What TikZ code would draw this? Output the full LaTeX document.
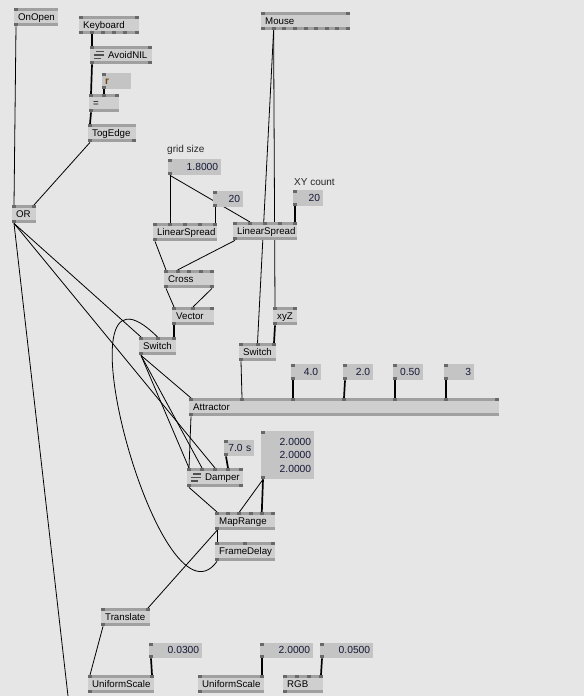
\documentclass[tikz,border=0pt]{standalone}
\usepackage{fontspec}
\setmainfont{Liberation Sans}
\definecolor{patchbg}{RGB}{230,230,230}
\definecolor{nodebody}{RGB}{207,207,207}
\definecolor{nodebar}{RGB}{160,160,160}
\definecolor{nodepin}{RGB}{105,105,105}
\definecolor{iobody}{RGB}{196,196,196}
\definecolor{valtext}{RGB}{20,25,55}
\definecolor{strtext}{RGB}{120,70,15}
\definecolor{iconcol}{RGB}{80,80,80}

\pgfdeclarelayer{patch}
\pgfdeclarelayer{links}
\pgfsetlayers{patch,links,main}

\tikzset{
  vnode/.style={anchor=north west, fill=nodebody, inner xsep=4pt, inner ysep=0pt,
    text width=#1pt-8pt, align=left, minimum height=18pt, text height=7.5pt, text depth=1.5pt,
    path picture={
      \fill[nodebar] (path picture bounding box.north west) rectangle ([yshift=-3pt]path picture bounding box.north east);
      \fill[nodebar] ([yshift=3pt]path picture bounding box.south west) rectangle (path picture bounding box.south east);}},
  iobase/.style={anchor=north west, fill=iobody, inner xsep=3pt, inner ysep=0pt,
    text width=#1pt-6pt, align=right, text=valtext, font=\fontsize{10.3}{13.5}\selectfont},
  iobox/.style={iobase=#1, minimum height=16pt, text height=7.5pt, text depth=1.5pt},
  patchnote/.style={anchor=base west, inner sep=0pt, text=black!85, font=\fontsize{10}{12}\selectfont},
  link/.style={line width=0.8pt},
  fatlink/.style={line width=1.7pt}
}

\newcommand{\toppins}[2]{\foreach \px in {#2}{\fill[nodepin] ([xshift=\px*1pt]#1.north west) rectangle +(4pt,-3pt);}}
\newcommand{\botpins}[2]{\foreach \px in {#2}{\fill[nodepin] ([xshift=\px*1pt]#1.south west) rectangle +(4pt,3pt);}}
\newcommand{\stackicon}[1]{%
  \draw[line width=1.5pt, draw=iconcol] ([xshift=6pt,yshift=3.5pt]#1.west) -- ++(8pt,0pt)
    ([xshift=4pt]#1.west) -- ++(10pt,0pt)
    ([xshift=4pt,yshift=-3.5pt]#1.west) -- ++(7pt,0pt);}

\begin{document}
\begin{tikzpicture}[x=1pt,y=-1pt,font=\fontsize{9.7}{11}\selectfont]
\begin{pgfonlayer}{patch}
\fill[patchbg] (0,0) rectangle (584,696);
\end{pgfonlayer}
\useasboundingbox (0,0) rectangle (584,696);

% keyboard / reset part
\node[vnode=44] (onopen) at (14,8) {OnOpen};
\node[vnode=60] (keyb) at (79,16) {Keyboard};
\node[vnode=62] (avoid) at (90,46) {\hspace*{14pt}AvoidNIL};
\node[iobox=29, align=left, text=strtext, font=\fontsize{10.3}{12}\bfseries] (rbox) at (102,73) {r};
\node[vnode=30] (eqn) at (89,94) {=};
\node[vnode=48] (togedge) at (88,124) {TogEdge};
\node[vnode=24] (ornode) at (12,205) {OR};

% grid
\node[patchnote] (gridlabel) at (167,152) {grid size};
\node[iobox=53] (gridsize) at (168,159) {1.8000};
\node[iobox=30] (twentya) at (213,191) {20};
\node[patchnote] (xylabel) at (294,185) {XY count};
\node[iobox=30] (xycount) at (293,190) {20};
\node[vnode=64] (ls1) at (153,223) {LinearSpread};
\node[vnode=64] (ls2) at (233,222) {LinearSpread};
\node[vnode=50] (cross) at (164,270) {Cross};
\node[vnode=42] (vect) at (172,307) {Vector};
\node[vnode=37] (switcha) at (139,337) {Switch};

% mouse
\node[vnode=89] (mouse) at (261,12) {Mouse};
\node[vnode=24] (xyz) at (273,307) {xyZ};
\node[vnode=37] (switchb) at (239,343) {Switch};

% attractor
\node[iobox=30] (fourval) at (291,364) {4.0};
\node[iobox=30] (twoval) at (343,364) {2.0};
\node[iobox=30] (halfval) at (393,364) {0.50};
\node[iobox=30] (threeval) at (444,364) {3};
\node[vnode=310] (attr) at (189,398) {Attractor};

% damping and feedback
\node[iobox=30] (damptime) at (224,440) {7.0 s};
\node[iobase=53, minimum height=48pt] (triple) at (261,431) {2.0000\\2.0000\\2.0000};
\node[vnode=56, minimum height=19pt] (damper) at (187,468) {\hspace*{14pt}Damper};
\node[vnode=60] (maprange) at (215,512) {MapRange};
\node[vnode=60, minimum height=19pt] (framedelay) at (215,542) {FrameDelay};

% transform
\node[vnode=49] (translate) at (101,608) {Translate};
\node[iobox=53, minimum height=15pt] (scalea) at (149,643) {0.0300};
\node[vnode=66] (usa) at (88,675) {UniformScale};
\node[iobox=53, minimum height=15pt] (scaleb) at (260,643) {2.0000};
\node[vnode=66] (usb) at (198,675) {UniformScale};
\node[iobox=53, minimum height=15pt] (rgbval) at (320,643) {0.0500};
\node[vnode=40] (rgbnode) at (283,675) {RGB};

\coordinate (orend) at (68,696);

\stackicon{avoid}
\stackicon{damper}

% pins
\toppins{onopen}{0} \botpins{onopen}{0}
\toppins{keyb}{0,56} \botpins{keyb}{0,11,22,33,44,56}
\toppins{avoid}{0,58} \botpins{avoid}{0,58}
\toppins{eqn}{0,13,26} \botpins{eqn}{0}
\toppins{togedge}{0} \botpins{togedge}{0,44}
\toppins{ornode}{0,20} \botpins{ornode}{0}
\toppins{ls1}{0,15,30,45,60} \botpins{ls1}{0}
\toppins{ls2}{0,15,30,45,60} \botpins{ls2}{0}
\toppins{cross}{0,11.5,23,34.5,46} \botpins{cross}{0,46}
\toppins{vect}{0,19,38} \botpins{vect}{0}
\toppins{switcha}{0,16.5,33} \botpins{switcha}{0}
\toppins{switchb}{0,16.5,33} \botpins{switchb}{0}
\toppins{xyz}{0,20} \botpins{xyz}{0}
\toppins{mouse}{0,85} \botpins{mouse}{0,10.6,21.2,31.9,42.5,53.1,63.8,74.4,85}
\toppins{attr}{0,51,102,153,204,255,306} \botpins{attr}{0}
\toppins{damper}{0,13,26,39,52} \botpins{damper}{0,52}
\toppins{maprange}{0,11.2,22.4,33.6,44.8,56} \botpins{maprange}{0}
\toppins{framedelay}{0,28,56} \botpins{framedelay}{0}
\toppins{translate}{0,45} \botpins{translate}{0}
\toppins{usa}{0,62} \botpins{usa}{0}
\toppins{usb}{0,62} \botpins{usb}{0}
\toppins{rgbnode}{0,12,24,36} \botpins{rgbnode}{0}
\foreach \io in {rbox,gridsize,twentya,xycount,fourval,twoval,halfval,threeval,damptime,triple,scalea,scaleb,rgbval}
  {\toppins{\io}{0} \botpins{\io}{0}}

\begin{pgfonlayer}{links}
\draw[link] ([xshift=2pt]onopen.south west) -- ([xshift=2pt]ornode.north west);
\draw[fatlink] ([xshift=13pt]keyb.south west) -- ([xshift=2pt]avoid.north west);
\draw[fatlink] ([xshift=2pt]avoid.south west) -- ([xshift=2pt]eqn.north west);
\draw[fatlink] ([xshift=2pt]rbox.south west) -- ([xshift=15pt]eqn.north west);
\draw[fatlink] ([xshift=2pt]eqn.south west) -- ([xshift=2pt]togedge.north west);
\draw[link] ([xshift=2pt]togedge.south west) -- ([xshift=22pt]ornode.north west);
\draw[link] ([xshift=2pt]ornode.south west) -- (orend);
\draw[link] ([xshift=2pt]ornode.south west) -- ([xshift=2pt]switcha.north west);
\draw[link] ([xshift=2pt]ornode.south west) -- ([xshift=28pt]damper.north west);
\draw[link] ([xshift=2pt]gridsize.south west) -- ([xshift=17pt]ls1.north west);
\draw[link] ([xshift=2pt]gridsize.south west) -- ([xshift=17pt]ls2.north west);
\draw[link] ([xshift=2pt]twentya.south west) -- ([xshift=62pt]ls1.north west);
\draw[fatlink] ([xshift=2pt]xycount.south west) -- ([xshift=62pt]ls2.north west);
\draw[link] ([xshift=2pt]ls1.south west) -- ([xshift=2pt]cross.north west);
\draw[link] ([xshift=2pt]ls2.south west) -- ([xshift=13.5pt]cross.north west);
\draw[link] ([xshift=2pt]cross.south west) -- ([xshift=2pt]vect.north west);
\draw[link] ([xshift=48pt]cross.south west) -- ([xshift=21pt]vect.north west);
\draw[fatlink] ([xshift=2pt]vect.south west) -- ([xshift=35pt]switcha.north west);
\draw[link] ([xshift=12.6pt]mouse.south west) -- ([xshift=18.5pt]switchb.north west);
\draw[link] ([xshift=12.6pt]mouse.south west) -- ([xshift=2pt]xyz.north west);
\draw[fatlink] ([xshift=2pt]xyz.south west) -- ([xshift=35pt]switchb.north west);
\draw[link] ([xshift=2pt]switchb.south west) -- ([xshift=53pt]attr.north west);
\draw[link] ([xshift=2pt]switcha.south west) -- ([xshift=2pt]attr.north west);
\draw[link] ([xshift=2pt]switcha.south west) -- ([xshift=2pt]damper.north west);
\draw[link] ([xshift=2pt]switcha.south west) -- ([xshift=15pt]damper.north west);
\draw[fatlink] ([xshift=2pt]fourval.south west) -- ([xshift=104pt]attr.north west);
\draw[fatlink] ([xshift=2pt]twoval.south west) -- ([xshift=155pt]attr.north west);
\draw[fatlink] ([xshift=2pt]halfval.south west) -- ([xshift=206pt]attr.north west);
\draw[fatlink] ([xshift=2pt]threeval.south west) -- ([xshift=257pt]attr.north west);
\draw[link] ([xshift=2pt]attr.south west) -- ([xshift=2pt]damper.north west);
\draw[fatlink] ([xshift=2pt]damptime.south west) -- ([xshift=41pt]damper.north west);
\draw[link] ([xshift=2pt]damper.south west) -- ([xshift=2pt]maprange.north west);
\draw[link] ([xshift=2pt]triple.south west) -- ([xshift=24.4pt]maprange.north west);
\draw[fatlink] ([xshift=2pt]triple.south west) -- ([xshift=46.8pt]maprange.north west);
\draw[link] ([xshift=2pt]maprange.south west) -- ([xshift=2pt]framedelay.north west);
\draw[link] ([xshift=2pt]maprange.south west) -- ([xshift=47pt]translate.north west);
\draw[link] ([xshift=2pt]framedelay.south west) .. controls +(-57,79) and +(-107.5,-107) .. ([xshift=18.5pt]switcha.north west);
\draw[link] ([xshift=2pt]translate.south west) -- ([xshift=2pt]usa.north west);
\draw[fatlink] ([xshift=2pt]scalea.south west) -- ([xshift=64pt]usa.north west);
\draw[fatlink] ([xshift=2pt]scaleb.south west) -- ([xshift=64pt]usb.north west);
\draw[fatlink] ([xshift=2pt]rgbval.south west) -- ([xshift=38pt]rgbnode.north west);
\end{pgfonlayer}
\end{tikzpicture}
\end{document}
